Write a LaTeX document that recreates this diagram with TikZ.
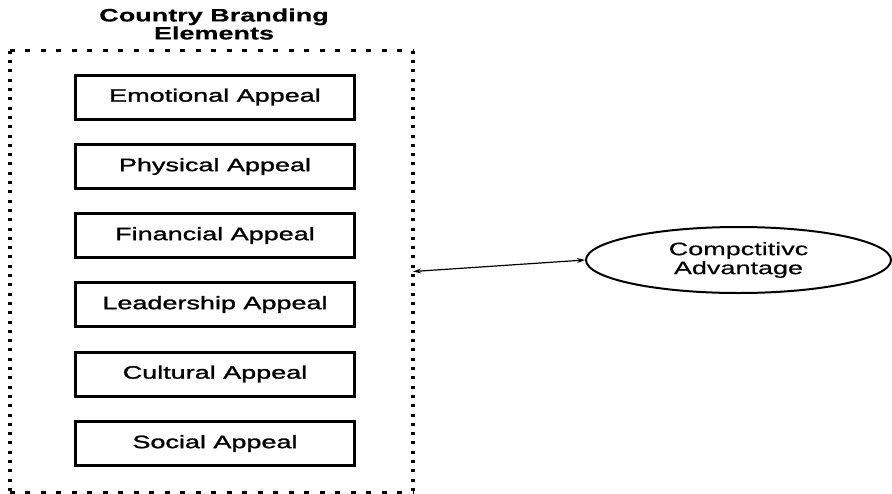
\documentclass[tikz,border=0pt]{standalone}
\usepackage{fontspec}
\setmainfont{Liberation Sans}[FakeStretch=1.5,FakeBold=0.4]
\newfontfamily\boxfont{Liberation Sans}[FakeStretch=1.5,FakeBold=1.4]
\usetikzlibrary{shapes.geometric,arrows.meta}

\begin{document}
\begin{tikzpicture}[x=1pt, y=-1pt,
        every node/.style={font=\fontsize{18}{19}\selectfont}]
        \tikzstyle{appealStyle} = [rectangle, draw=black, line width=3pt, fill=white,
                                   minimum width=279pt, minimum height=44pt, inner sep=0pt,
                                   font=\boxfont\fontsize{18}{19}\selectfont]
        \tikzstyle{frameStyle} = [rectangle, minimum width=403pt, minimum height=441pt, inner sep=0pt]
        \tikzstyle{hDots} = [draw=black, line width=3pt, dash pattern=on 5pt off 10.5pt]
        \tikzstyle{vDots} = [draw=black, line width=4pt, dash pattern=on 3pt off 6.3pt]
        \tikzstyle{goalStyle} = [ellipse, draw=black, line width=2pt, minimum width=305pt,
                                 minimum height=66pt, inner sep=0pt, align=center]
        \tikzstyle{linkEdge} = [draw=black, line width=1.2pt,
                                {Stealth[length=8pt,width=5pt]}-{Stealth[length=8pt,width=5pt]}]
        \useasboundingbox (0,0) rectangle (892,493);
        % heading over the dotted frame
        \node[align=center, font=\bfseries\fontsize{18}{18}\selectfont] (title) at (214,24)
            {Country Branding\\Elements};
        % dotted frame round the appeals
        \node[frameStyle] (frame) at (211.5,271.5) {};
        \path[hDots] (frame.north west) -- (frame.north east)
                     (frame.south west) -- (frame.south east);
        \path[vDots] (frame.north west) -- (frame.south west)
                     (frame.north east) -- (frame.south east);
        \foreach \name/\txt/\y in {emotional/Emotional Appeal/97,
                                   physical/Physical Appeal/166.5,
                                   financial/Financial Appeal/235.5,
                                   leadership/Leadership Appeal/304.5,
                                   cultural/Cultural Appeal/374,
                                   social/Social Appeal/443.5}
            \node[appealStyle] (\name) at (215,\y) {\txt};
        \node[goalStyle] (advantage) at (738.5,260) {Compctitivc\\Advantage};
        \path[linkEdge] (frame.east) -- (advantage.west);
    \end{tikzpicture}
\end{document}
